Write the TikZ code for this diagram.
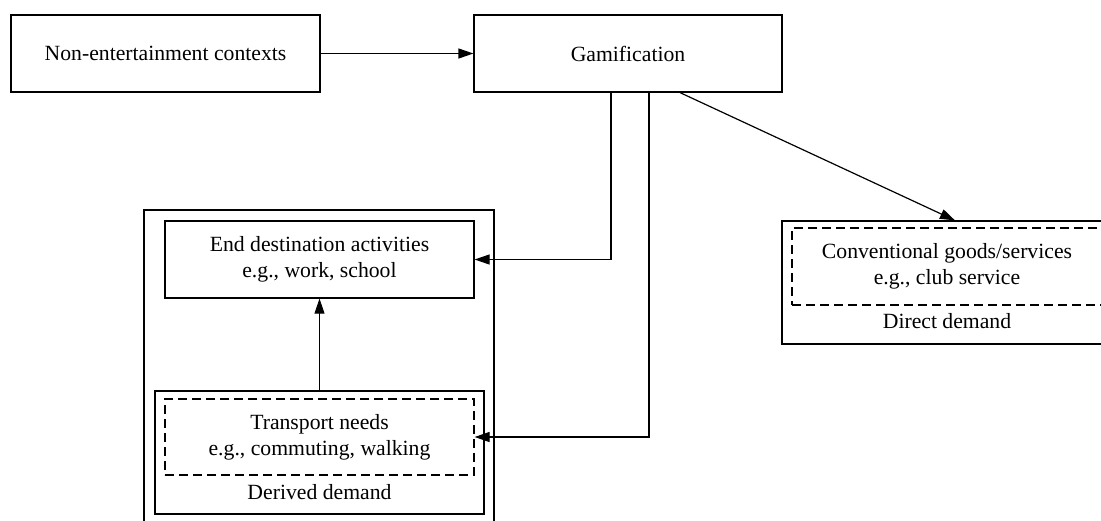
\documentclass[tikz,border=0pt]{standalone}
\usepackage{fontspec}
\setmainfont{Liberation Serif}
\usetikzlibrary{arrows.meta,calc}
\begin{document}
\begin{tikzpicture}[x=1pt,y=-1pt,
  lbl/.style={font=\fontsize{21.7pt}{26pt}\selectfont,align=center,inner sep=0pt},
  box/.style={draw,line width=1.2pt,rectangle,inner sep=0pt,lbl},
  dbox/.style={box,dash pattern=on 9pt off 5pt},
  arr/.style={line width=1.2pt,-{Triangle[length=15pt,width=10pt]}},
  thinarr/.style={line width=0.8pt,-{Triangle[length=15pt,width=10pt]}}
]
\useasboundingbox (0,0) rectangle (1101,520);
\clip (0,0) rectangle (1101,520);

\node[box,minimum width=309pt,minimum height=77pt] (A) at (165.5,53.5) {Non-entertainment contexts};
\node[box,minimum width=308pt,minimum height=77pt] (G) at (628,53.5) {Gamification};

\node[box,minimum width=350pt,minimum height=330pt] (O) at (319,375) {};
\node[box,minimum width=309pt,minimum height=77pt] (E) at (319.5,259.5) {End destination activities\\e.g., work, school};

\node[box,minimum width=329pt,minimum height=123pt] (T) at (319.5,452.5) {};
\node[dbox,minimum width=309pt,minimum height=76pt] (TD) at (319.5,437) {Transport needs\\e.g., commuting, walking};
\node[lbl] (TL) at (319.5,492) {Derived demand};

\node[box,minimum width=330pt,minimum height=123pt] (D) at (947,282.5) {};
\node[dbox,minimum width=310pt,minimum height=77pt] (DD) at (947,266.5) {Conventional goods/services\\e.g., club service};
\node[lbl] (DL) at (947,321) {Direct demand};

\draw[arr] (A) -- (G);
\draw[arr] ($(G.south)+(-17,0)$) |- (E.east);
\draw[arr] ($(G.south)+(21,0)$) |- (TD.east);
\draw[arr] ($(G.south)+(52,0)$) -- ($(D.north)+(8,0)$);
\draw[thinarr] (T.north) -- (E.south);
\end{tikzpicture}
\end{document}
